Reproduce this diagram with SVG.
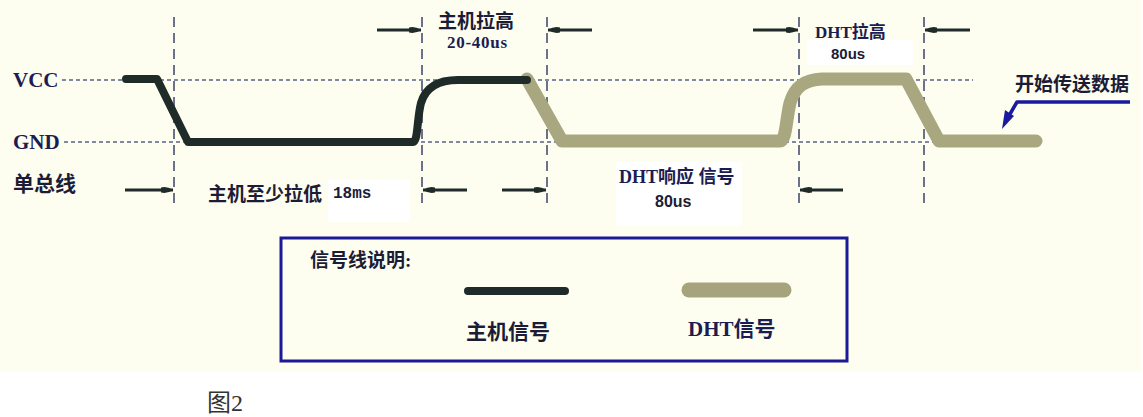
<svg xmlns="http://www.w3.org/2000/svg" width="1143" height="417" viewBox="0 0 1143 417">
<defs>
<style>
.lbl{font-family:"Liberation Serif","Noto Sans CJK SC",serif;font-weight:bold;fill:#1b1d52}
.cjk{font-family:"Liberation Serif","Noto Sans CJK SC",sans-serif;font-weight:bold;fill:#1c1c36}
.sans{font-family:"Liberation Sans","Noto Sans CJK SC",sans-serif;font-weight:bold;fill:#1c1c36}
.mono{font-family:"Liberation Mono",monospace;font-weight:bold;fill:#1c1c36}
.fig{font-family:"Liberation Serif","Noto Sans CJK SC",serif;font-weight:normal;fill:#333333}
.vdash{stroke:#3c4266;stroke-width:1.5;stroke-dasharray:10 6;fill:none}
.hdot{stroke:#5a6288;stroke-width:1.5;stroke-dasharray:4 3;fill:none}
.host{stroke:#1f2b29;stroke-width:8;fill:none;stroke-linecap:round;stroke-linejoin:round}
.dht{stroke:#a9a780;stroke-width:13;fill:none;stroke-linecap:round;stroke-linejoin:round}
.arr{stroke:#1f2b29;stroke-width:3;fill:none;marker-end:url(#ah)}
</style>
<marker id="ah" viewBox="0 0 12 8" refX="12" refY="4" markerWidth="12" markerHeight="8" markerUnits="userSpaceOnUse" orient="auto">
<path d="M0,1.5 Q6,0 12,4 Q6,8 0,6.5 z" fill="#1f2b29"/>
</marker>
</defs>
<rect x="0" y="0" width="1143" height="417" fill="#ffffff"/>
<rect x="0" y="0" width="1141" height="372" fill="#fefef0"/>
<g id="white-patches" fill="#ffffff">
<rect x="328" y="180" width="82" height="42"/>
<rect x="616" y="162" width="126" height="64"/>
<rect x="807" y="40" width="106" height="25"/>
</g>
<g id="grid">
<line class="hdot" x1="62" y1="80" x2="973" y2="80"/>
<line class="hdot" x1="64" y1="142" x2="971" y2="142"/>
<line class="vdash" x1="174" y1="17" x2="174" y2="206"/>
<line class="vdash" x1="422" y1="17" x2="422" y2="206"/>
<line class="vdash" x1="547" y1="17" x2="547" y2="207"/>
<line class="vdash" x1="799" y1="17" x2="799" y2="206"/>
<line class="vdash" x1="924" y1="17" x2="924" y2="206"/>
</g>
<g id="signals">
<path class="dht" d="M527,79 L562,141 H780 C786,141 786,120 790,103 C795,86 805,80 822,79 H906 L939,141 H1036"/>
<path class="host" d="M126,79 H157 L188,142 H413 C418,142 417,118 421,103 C426,86 440,80 458,80 H527"/>
</g>
<g id="connectors">
<line class="arr" x1="377" y1="30" x2="421" y2="30"/>
<line class="arr" x1="592" y1="30" x2="548" y2="30"/>
<line class="arr" x1="753" y1="30" x2="798" y2="30"/>
<line class="arr" x1="970" y1="30" x2="925" y2="30"/>
<line class="arr" x1="125" y1="190" x2="173" y2="190"/>
<line class="arr" x1="467" y1="190" x2="423" y2="190"/>
<line class="arr" x1="502" y1="190" x2="546" y2="190"/>
<line class="arr" x1="843" y1="190" x2="800" y2="190"/>
<polyline points="1130,102 1017,102 1010,114" fill="none" stroke="#1a1aa0" stroke-width="3.5" stroke-linejoin="round"/>
<polygon points="1002,129 1005,110 1014,116" fill="#1a1aa0"/>
</g>
<g id="labels">
<text class="lbl" x="13" y="87" font-size="21">VCC</text>
<text class="lbl" x="13" y="149" font-size="21">GND</text>
<text class="cjk" x="13" y="191" font-size="21">单总线</text>
<text class="cjk" x="208" y="201" font-size="19">主机至少拉低 <tspan class="mono" font-size="16" x="333" y="198">18ms</tspan></text>
<text class="cjk" x="438" y="28" font-size="19">主机拉高</text>
<text class="lbl" x="447" y="48" font-size="17" textLength="60">20-40us</text>
<text class="lbl" x="619" y="183" font-size="18">DHT响应 信号</text>
<text class="sans" x="655" y="207" font-size="16">80us</text>
<text class="lbl" x="815" y="38" font-size="17">DHT拉高</text>
<text class="sans" x="831" y="59" font-size="15">80us</text>
<text class="cjk" x="1015" y="91" font-size="19">开始传送数据</text>
</g>
<g id="legend">
<rect x="281" y="238" width="566" height="123" fill="none" stroke="#1a1a96" stroke-width="3"/>
<text class="cjk" x="310" y="267" font-size="19">信号线说明:</text>
<line x1="468" y1="291" x2="565" y2="291" stroke="#1f2b29" stroke-width="8" stroke-linecap="round"/>
<line x1="689" y1="290" x2="784" y2="290" stroke="#a5a47c" stroke-width="15" stroke-linecap="round"/>
<text class="cjk" x="466" y="339" font-size="21">主机信号</text>
<text class="lbl" x="688" y="336" font-size="21">DHT信号</text>
</g>
<text class="fig" x="207" y="411" font-size="24">图2</text>
</svg>
